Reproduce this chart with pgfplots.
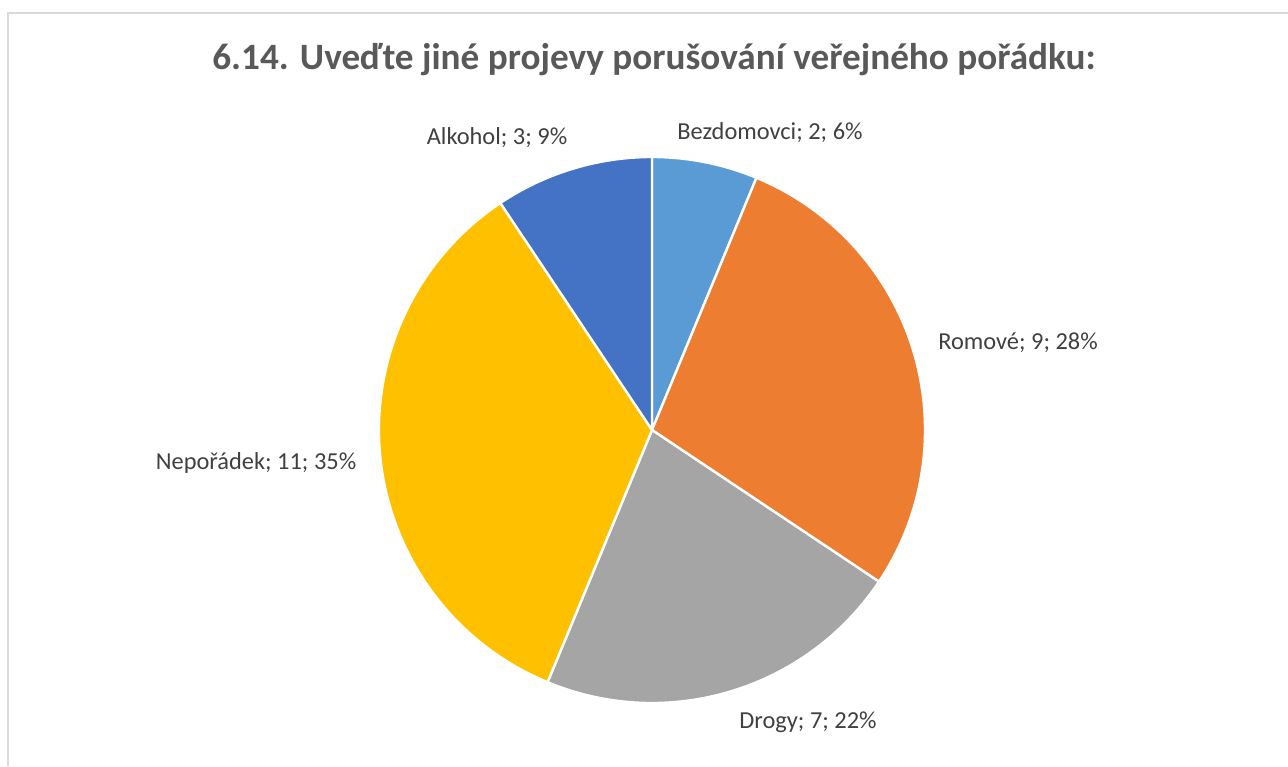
\documentclass[border=0pt]{standalone}
\usepackage{pgfplots}
\pgfplotsset{compat=1.18}
\usepackage{pgfplotstable}
\usepackage{fontspec}
\setmainfont{Carlito}
\definecolor{cBez}{HTML}{5B9BD5}
\definecolor{cRom}{HTML}{ED7D31}
\definecolor{cDro}{HTML}{A5A5A5}
\definecolor{cNep}{HTML}{FFC000}
\definecolor{cAlk}{HTML}{4472C4}
\definecolor{lbl}{HTML}{404040}
\definecolor{ttl}{HTML}{595959}
\definecolor{frame}{HTML}{D9D9D9}
\pgfplotstableread{
label value
Bezdomovci 2
Romove 9
Drogy 7
Neporadek 11
Alkohol 3
}\piedata
\begin{document}
\begin{tikzpicture}
\pgfplotstablegetelem{0}{value}\of\piedata \edef\vA{\pgfplotsretval}
\pgfplotstablegetelem{1}{value}\of\piedata \edef\vB{\pgfplotsretval}
\pgfplotstablegetelem{2}{value}\of\piedata \edef\vC{\pgfplotsretval}
\pgfplotstablegetelem{3}{value}\of\piedata \edef\vD{\pgfplotsretval}
\pgfplotstablegetelem{4}{value}\of\piedata \edef\vE{\pgfplotsretval}
\pgfmathsetmacro\total{\vA+\vB+\vC+\vD+\vE}
\pgfmathsetmacro\aA{90}
\pgfmathsetmacro\aB{\aA-360*\vA/\total}
\pgfmathsetmacro\aC{\aB-360*\vB/\total}
\pgfmathsetmacro\aD{\aC-360*\vC/\total}
\pgfmathsetmacro\aE{\aD-360*\vD/\total}
\pgfmathsetmacro\aF{\aE-360*\vE/\total}
\def\R{136.5pt}
\begin{axis}[
  width=644pt, height=383pt, scale only axis,
  xmin=0, xmax=1288, ymin=0, ymax=766,
  axis lines=none, ticks=none, clip=false,
]
\draw[frame, line width=0.9pt] (axis cs:8,0) -- (axis cs:8,753) -- (axis cs:1288,753);
\fill[cBez, draw=white, line width=1.2pt, line join=round] (axis cs:652,336) -- ++(\aA:\R) arc[start angle=\aA, end angle=\aB, radius=\R] -- cycle;
\fill[cRom, draw=white, line width=1.2pt, line join=round] (axis cs:652,336) -- ++(\aB:\R) arc[start angle=\aB, end angle=\aC, radius=\R] -- cycle;
\fill[cDro, draw=white, line width=1.2pt, line join=round] (axis cs:652,336) -- ++(\aC:\R) arc[start angle=\aC, end angle=\aD, radius=\R] -- cycle;
\fill[cNep, draw=white, line width=1.2pt, line join=round] (axis cs:652,336) -- ++(\aD:\R) arc[start angle=\aD, end angle=\aE, radius=\R] -- cycle;
\fill[cAlk, draw=white, line width=1.2pt, line join=round] (axis cs:652,336) -- ++(\aE:\R) arc[start angle=\aE, end angle=\aF, radius=\R] -- cycle;
\node[ttl, font=\fontsize{18.6}{22}\selectfont\bfseries] at (axis cs:654,706) {6.14. Uveďte jiné projevy porušování veřejného pořádku:};
\tikzset{lb/.style={lbl, font=\fontsize{12.2}{14}\selectfont, inner sep=0pt}}
\node[lb] at (axis cs:770,633) {Bezdomovci; 2; 6\%};
\node[lb] at (axis cs:497,628) {Alkohol; 3; 9\%};
\node[lb] at (axis cs:1018,423) {Romové; 9; 28\%};
\node[lb] at (axis cs:256,303) {Nepořádek; 11; 35\%};
\node[lb] at (axis cs:808,44) {Drogy; 7; 22\%};
\end{axis}
\pgfresetboundingbox
\path[use as bounding box] (current axis.south west) rectangle (current axis.north east);
\end{tikzpicture}
\end{document}
